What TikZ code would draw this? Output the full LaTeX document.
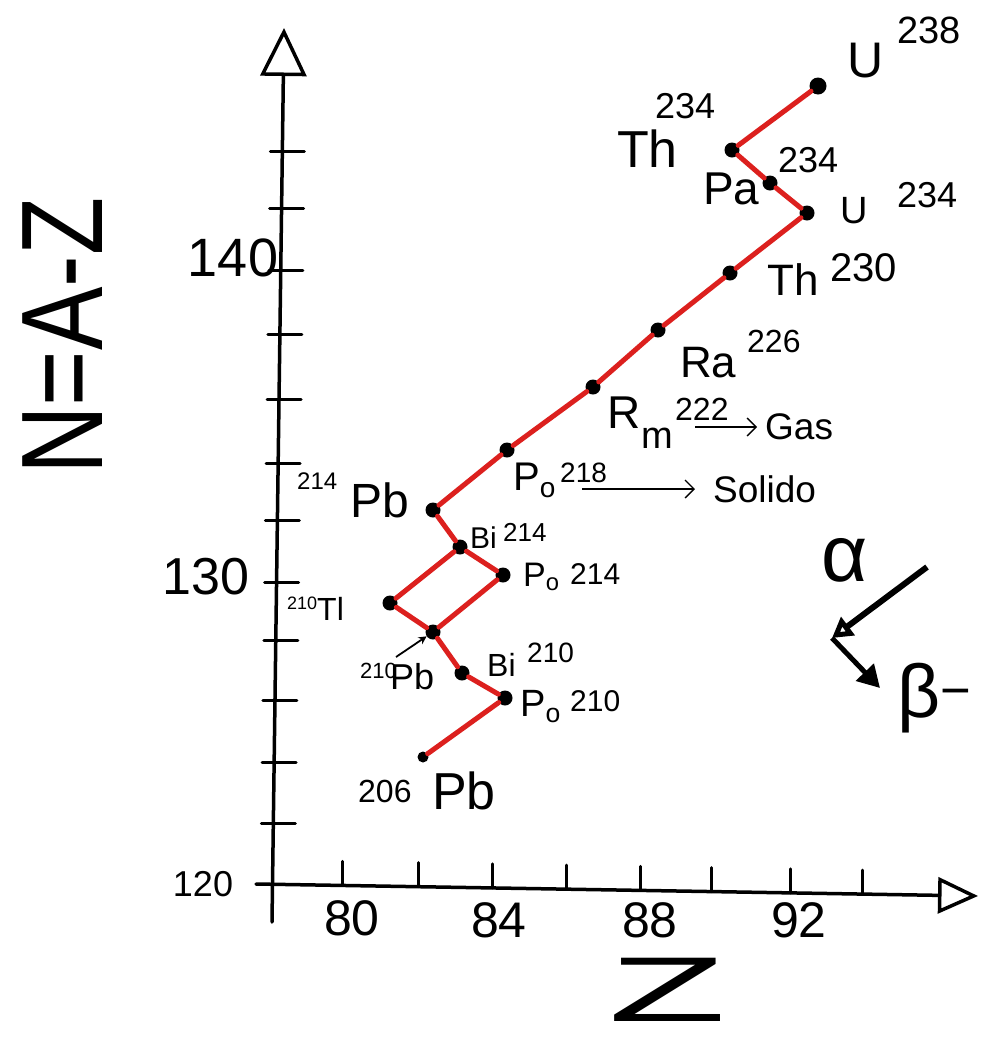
\documentclass[tikz,border=0pt]{standalone}
\usepackage{graphicx}
\usepackage{fontspec}
\setmainfont{Liberation Sans}
\usetikzlibrary{arrows.meta}
\definecolor{decayred}{RGB}{220,32,30}
\newcommand{\handfont}[1]{\fontsize{#1}{#1}\selectfont}

\tikzset{
  nuc/.style={circle, fill=black, inner sep=0pt, minimum size=15pt},
  decay/.style={decayred, line width=5pt, line cap=round},
  axisline/.style={line width=3.5pt, line cap=round},
  lbl/.style={inner sep=0pt, anchor=north west},
  pointer/.style={line width=1.3pt, -{Straight Barb[length=9pt, width=18pt]}},
}

\begin{document}
\begin{tikzpicture}[x=1pt, y=-1pt]
  \useasboundingbox (0,0) rectangle (981,1042);
  % Axes
  \coordinate (ybot) at (272,922);
  \coordinate (ytop) at (284,28);
  \coordinate (xleft) at (256,884);
  \coordinate (xright) at (978,896);
  \draw[axisline, -{Triangle[open, length=48pt, width=46pt]}] (ybot) -- (ytop);
  \draw[axisline, -{Triangle[open, length=40pt, width=36pt]}] (xleft) -- (xright);
  \foreach \ty in {823,762,700,640,582,520,463,399,334,270,208,151}
    \draw[axisline, line width=3pt] ({260+(922-\ty)*12/892},\ty) -- ++(34,0);
  \foreach \tx in {342,418,492,566,640,711,790,862}
    \draw[axisline, line width=3pt] (\tx,{884+(\tx-256)/60}) -- ++(0,-24);
  % Axis numbers
  \node[font=\handfont{54}] (n140) at (233,258) {140};
  \node[font=\handfont{52}] (n130) at (206,577) {130};
  \node[font=\handfont{36}] (n120) at (203,884) {120};
  \node[font=\handfont{50}] (z80) at (352,918) {80};
  \node[font=\handfont{50}] (z84) at (499,920) {84};
  \node[font=\handfont{50}] (z88) at (650,920) {88};
  \node[font=\handfont{50}] (z92) at (799,920) {92};
  \node[rotate=90, font=\handfont{116}] (ntitle) at (63,336) {\scalebox{0.82}[1]{N=A-Z}};
  \node[font=\handfont{92}] (ztitle) at (668,990) {\scalebox{2.1}[1]{Z}};
  % Nuclides
  \node[nuc, minimum size=17pt] (u238) at (818,86) {};
  \node[nuc] (th234) at (732,150) {};
  \node[nuc] (pa234) at (770,183) {};
  \node[nuc] (u234) at (807,213) {};
  \node[nuc] (th230) at (730,273) {};
  \node[nuc] (ra226) at (658,330) {};
  \node[nuc] (rn222) at (593,387) {};
  \node[nuc] (po218) at (507,450) {};
  \node[nuc] (pb214) at (433,510) {};
  \node[nuc] (bi214) at (460,547) {};
  \node[nuc] (po214) at (503,575) {};
  \node[nuc] (tl210) at (390,603) {};
  \node[nuc] (pb210) at (433,632) {};
  \node[nuc] (bi210) at (462,673) {};
  \node[nuc] (po210) at (505,698) {};
  \node[nuc, minimum size=11pt] (pb206) at (423,757) {};
  % Decay chain
  \foreach \a/\b in {u238/th234, th234/pa234, pa234/u234, u234/th230, th230/ra226,
      ra226/rn222, rn222/po218, po218/pb214, pb214/bi214, bi214/po214, bi214/tl210,
      po214/pb210, tl210/pb210, pb210/bi210, bi210/po210, po210/pb206}
    \draw[decay] (\a) -- (\b);
  % Labels
  \node[lbl, font=\handfont{50}] (u238s) at (847,43) {U};
  \node[lbl, font=\handfont{38}] (u238m) at (897,17) {238};
  \node[lbl, font=\handfont{52}] (th234s) at (617,130) {Th};
  \node[lbl, font=\handfont{36}] (th234m) at (655,93) {234};
  \node[lbl, font=\handfont{46}] (pa234s) at (703,173) {Pa};
  \node[lbl, font=\handfont{36}] (pa234m) at (778,147) {234};
  \node[lbl, font=\handfont{38}] (u234s) at (840,197) {U};
  \node[lbl, font=\handfont{36}] (u234m) at (897,182) {234};
  \node[lbl, font=\handfont{44}] (th230s) at (767,263) {Th};
  \node[lbl, font=\handfont{40}] (th230m) at (830,253) {230};
  \node[lbl, font=\handfont{44}] (ra226s) at (680,347) {Ra};
  \node[lbl, font=\handfont{32}] (ra226m) at (747,330) {226};
  \node[lbl, font=\handfont{46}] (rn222s) at (607,397) {R};
  \node[lbl, font=\handfont{38}] (rn222sub) at (641,428) {m};
  \node[lbl, font=\handfont{32}] (rn222m) at (675,398) {222};
  \node[lbl, font=\handfont{40}] (po218s) at (513,463) {P\textsubscript{o}};
  \node[lbl, font=\handfont{28}] (po218m) at (560,463) {218};
  \node[lbl, font=\handfont{24}] (pb214m) at (297,473) {214};
  \node[lbl, font=\handfont{48}] (pb214s) at (350,483) {Pb};
  \node[lbl, font=\handfont{30}] (bi214s) at (470,527) {Bi};
  \node[lbl, font=\handfont{26}] (bi214m) at (503,523) {214};
  \node[lbl, font=\handfont{34}] (po214s) at (523,563) {P\textsubscript{o}};
  \node[lbl, font=\handfont{30}] (po214m) at (570,563) {214};
  \node[lbl, font=\handfont{18}] (tl210m) at (287,597) {210};
  \node[lbl, font=\handfont{32}] (tl210s) at (317,597) {Tl};
  \node[lbl, font=\handfont{22}] (pb210m) at (360,663) {210};
  \node[lbl, font=\handfont{36}] (pb210s) at (390,663) {Pb};
  \node[lbl, font=\handfont{32}] (bi210s) at (487,653) {Bi};
  \node[lbl, font=\handfont{28}] (bi210m) at (527,643) {210};
  \node[lbl, font=\handfont{38}] (po210s) at (520,690) {P\textsubscript{o}};
  \node[lbl, font=\handfont{30}] (po210m) at (570,690) {210};
  \node[lbl, font=\handfont{32}] (pb206m) at (358,780) {206};
  \node[lbl, font=\handfont{52}] (pb206s) at (432,772) {Pb};
  \draw[line width=1.8pt, -{Stealth[length=8pt, width=8pt]}] (pb210s.north west) ++(6,-6) -- (pb210);
  % Gas / Solido
  \coordinate (gasfrom) at (695,427);
  \coordinate (solfrom) at (582,489);
  \node[anchor=west, inner xsep=8pt, inner ysep=0pt, font=\handfont{37}] (gas) at (757,427) {Gas};
  \node[anchor=west, inner xsep=18pt, inner ysep=0pt, font=\handfont{37}] (solido) at (695,489) {Solido};
  \draw[pointer] (gasfrom) -- (gas.west);
  \draw[pointer] (solfrom) -- (solido.west);
  % Alpha / beta legend
  \coordinate (afrom) at (927,567);
  \coordinate (kink) at (832,638);
  \coordinate (bto) at (880,688);
  \draw[line width=6pt, -{Triangle[open, length=20pt, width=22pt]}] (afrom) -- (kink);
  \draw[line width=5pt, -{Triangle[length=22pt, width=24pt]}] (kink) -- (bto);
  \node[font=\handfont{80}] (alpha) at (845,560) {α};
  \node[lbl, font=\handfont{75}] (beta) at (897,663) {β\textsuperscript{−}};
\end{tikzpicture}
\end{document}
